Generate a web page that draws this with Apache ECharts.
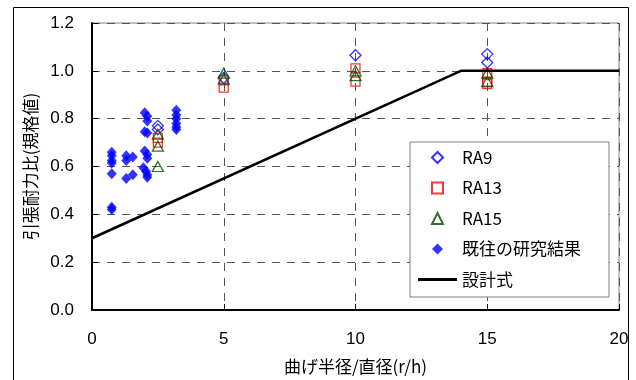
<!DOCTYPE html>
<html>
<head>
<meta charset="utf-8">
<script src="https://cdn.jsdelivr.net/npm/echarts@6/dist/echarts.min.js"></script>
<style>html,body{margin:0;padding:0;background:#fff;}#c{width:636px;height:380px;}</style>
</head>
<body>
<div id="c"></div>
<script>
const xTicks = [0, 5, 10, 15, 20];
const yTicks = [0.0, 0.2, 0.4, 0.6, 0.8, 1.0, 1.2];
const seriesNames = ['RA9', 'RA13', 'RA15', '既往の研究結果', '設計式'];
const ra9 = [[2.5,0.77],[2.5,0.755],[5,0.97],[10,1.065],[15,1.07],[15,1.035]];
const ra13 = [[2.5,0.72],[2.5,0.70],[5,0.96],[5,0.93],[10,1.01],[10,0.955],[15,0.99],[15,0.955],[15,0.945]];
const ra15 = [[2.5,0.735],[2.5,0.685],[2.5,0.60],[5,0.99],[5,0.965],[10,1.0],[10,0.98],[15,0.99],[15,0.955]];
const previous = [
  [0.75,0.66],[0.75,0.645],[0.75,0.625],[0.75,0.615],[0.75,0.57],[0.75,0.43],[0.75,0.42],
  [1.3,0.645],[1.3,0.625],[1.3,0.55],[1.55,0.64],[1.55,0.565],
  [2.0,0.825],[2.1,0.81],[2.1,0.79],[2.0,0.745],[2.1,0.74],[2.0,0.665],[2.1,0.65],[2.1,0.635],
  [1.95,0.595],[2.05,0.58],[2.1,0.565],[2.1,0.555],
  [3.2,0.835],[3.2,0.815],[3.2,0.8],[3.2,0.78],[3.2,0.765],[3.2,0.755]
];
const design = [[0,0.3],[14,1.0],[20,1.0]];

const jp = '"Noto Sans CJK JP", sans-serif';
const num = '"Liberation Sans", Arial, sans-serif';
const ICON_DIAMOND = 'path://M5,0L10,5L5,10L0,5Z';
const ICON_SQUARE = 'path://M0,0H10V10H0Z';
const ICON_TRIANGLE = 'path://M5,0L10,10L0,10Z';
const ICON_LINE = 'path://M0,0H40V3H0Z';
const chart = echarts.init(document.getElementById('c'), null, {renderer:'canvas'});
chart.setOption({
  animation: false,
  backgroundColor: '#fff',
  graphic: [{
    type: 'rect', silent: true, z: 0,
    shape: {x: 13.5, y: 7.5, width: 615, height: 380},
    style: {fill: 'none', stroke: '#000', lineWidth: 1}
  }],
  grid: {left: 92, right: 17, top: 23, bottom: 68, show: true, borderColor: '#808080', borderWidth: 1, backgroundColor: 'transparent'},
  xAxis: {
    type: 'value', min: xTicks[0], max: xTicks[xTicks.length-1], interval: 5,
    name: '曲げ半径/直径(r/h)', nameLocation: 'middle', nameGap: 48,
    nameTextStyle: {fontFamily: jp, fontSize: 17, color: '#000'},
    axisLine: {show: true, lineStyle: {color: '#000', width: 2}},
    axisTick: {show: true, inside: true, length: 6, lineStyle: {color: '#000', width: 1}},
    axisLabel: {fontFamily: num, fontSize: 17, color: '#000', margin: 21},
    splitLine: {show: true, lineStyle: {color: '#555', type: [8, 7], width: 1}}
  },
  yAxis: {
    type: 'value', min: yTicks[0], max: yTicks[yTicks.length-1], interval: 0.2,
    name: '引張耐力比(規格値)', nameLocation: 'middle', nameGap: 52, nameRotate: 90,
    nameTextStyle: {fontFamily: jp, fontSize: 17, color: '#000'},
    axisLine: {show: true, lineStyle: {color: '#000', width: 2}},
    axisTick: {show: true, inside: true, length: 6, lineStyle: {color: '#000', width: 1}},
    axisLabel: {fontFamily: num, fontSize: 17, color: '#000', margin: 18, formatter: v => v.toFixed(1)},
    splitLine: {show: true, lineStyle: {color: '#555', type: [8, 7], width: 1}}
  },
  legend: {
    orient: 'vertical', left: 410, top: 142,
    padding: [7, 28, 9, 8], itemGap: 13.5, itemWidth: 39, itemHeight: 11,
    symbolKeepAspect: true,
    backgroundColor: '#fff', borderColor: '#808080', borderWidth: 1, borderRadius: 0,
    textStyle: {fontFamily: jp, fontSize: 17, color: '#000'},
    data: [
      {name: seriesNames[0], icon: ICON_DIAMOND},
      {name: seriesNames[1], icon: ICON_SQUARE},
      {name: seriesNames[2], icon: ICON_TRIANGLE},
      {name: seriesNames[3], icon: ICON_DIAMOND},
      {name: seriesNames[4], icon: ICON_LINE}
    ]
  },
  series: [
    {name: seriesNames[3], type: 'scatter', data: previous, symbol: 'diamond', symbolSize: [10, 11],
     itemStyle: {color: '#0000ff'}, z: 2},
    {name: seriesNames[0], type: 'scatter', data: ra9, symbol: 'diamond', symbolSize: [11, 11],
     itemStyle: {color: 'rgba(255,255,255,0)', borderColor: '#0000ff', borderWidth: 1.3}, z: 3},
    {name: seriesNames[1], type: 'scatter', data: ra13, symbol: 'rect', symbolSize: 9,
     itemStyle: {color: 'rgba(255,255,255,0)', borderColor: '#ff0000', borderWidth: 1.3}, z: 3},
    {name: seriesNames[2], type: 'scatter', data: ra15, symbol: 'triangle', symbolSize: [11, 10],
     itemStyle: {color: 'rgba(255,255,255,0)', borderColor: '#004d00', borderWidth: 1.3}, z: 3},
    {name: seriesNames[4], type: 'line', data: design, symbol: 'none', showSymbol: false,
     lineStyle: {color: '#000', width: 2.5}, itemStyle: {color: '#000'}, z: 4}
  ]
});
</script>
</body>
</html>
